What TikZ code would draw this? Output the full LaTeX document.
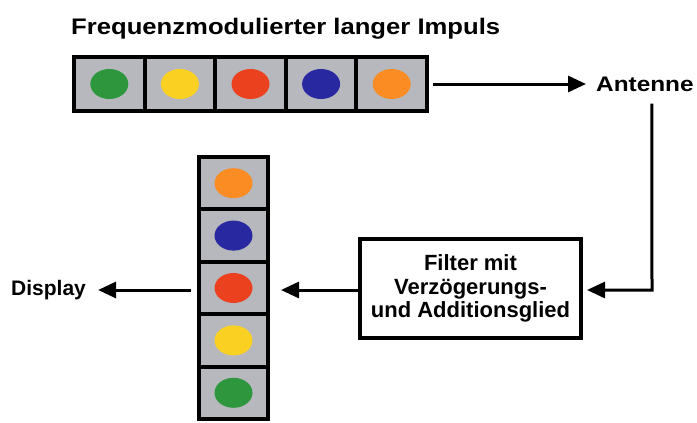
\documentclass[tikz,border=0pt]{standalone}
\usepackage{fontspec}
\setmainfont{Liberation Sans}
\usetikzlibrary{arrows.meta,shapes.geometric}
\definecolor{cellgray}{RGB}{182,184,190}
\definecolor{dgreen}{RGB}{46,150,60}
\definecolor{dyellow}{RGB}{250,208,35}
\definecolor{dred}{RGB}{235,65,30}
\definecolor{dblue}{RGB}{40,40,160}
\definecolor{dorange}{RGB}{250,140,35}
\tikzset{
  hcell/.style={draw=black, line width=4pt, fill=cellgray, inner sep=0pt,
    minimum width=70.6pt, minimum height=54pt},
  vcell/.style={draw=black, line width=4pt, fill=cellgray, inner sep=0pt,
    minimum width=69pt, minimum height=52.4pt},
  dot/.style={ellipse, inner sep=0pt, minimum width=38pt, minimum height=30pt},
  lbl/.style={font=\bfseries\fontsize{21}{23}\selectfont, inner sep=0pt},
  arr/.style={line width=3pt, -{Triangle[length=18pt,width=16pt]}},
  filterbox/.style={draw=black, line width=4pt, inner sep=0pt, align=center,
    minimum width=221pt, minimum height=99pt,
    font=\bfseries\fontsize{22}{23.5}\selectfont}
}
\begin{document}
\begin{tikzpicture}[x=1pt,y=-1pt]
\fill[white] (0,0) rectangle (697,423);
\useasboundingbox (0,0) rectangle (697,423);

% title
\node[lbl, anchor=west, font=\bfseries\fontsize{22.5}{24}\selectfont] (title) at (71,29)
  {\scalebox{1.14}[1]{Frequenzmodulierter langer Impuls}};

% horizontal pulse strip
\foreach \i/\c in {1/dgreen,2/dyellow,3/dred,4/dblue,5/dorange}{
  \node[hcell] (h\i) at ({74+70.6*(\i-0.5)},84) {};
  \node[dot, fill=\c] (hd\i) at (h\i) {};
}

% vertical compressed strip
\foreach \i/\c in {1/dorange,2/dblue,3/dred,4/dyellow,5/dgreen}{
  \node[vcell] (v\i) at (233.5,{157+52.4*(\i-0.5)}) {};
  \node[dot, fill=\c] (vd\i) at (v\i) {};
}

% labels and filter
\node[lbl, anchor=west] (ant) at (596,84) {\scalebox{1.16}[1]{Antenne}};
\node[lbl, anchor=west] (disp) at (11,290) {Display};
\node[filterbox] (filt) at (470.5,288.5) {Filter mit\\Verzögerungs-\\und Additionsglied};
\coordinate (bend) at (652,290);

% connectors
\draw[arr] ([xshift=4pt]h5.east) -- ([xshift=-10pt]ant.west);
\draw[arr] ([xshift=7pt,yshift=-12pt]ant.south) -- (bend) -- ([xshift=4pt]filt.east |- bend);
\draw[arr] (filt.west |- bend) -- ([xshift=11pt]v3.east |- bend);
\draw[arr] ([xshift=-6pt]v3.west |- bend) -- ([xshift=12pt]disp.east |- bend);
\end{tikzpicture}
\end{document}
